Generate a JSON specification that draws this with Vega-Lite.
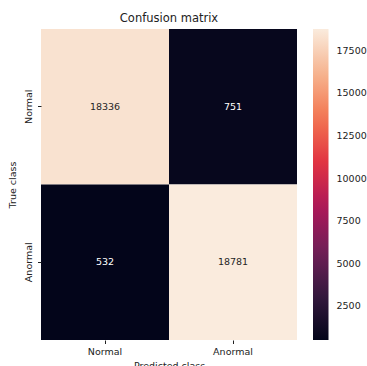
{
  "$schema": "https://vega.github.io/schema/vega-lite/v6.json",
  "width": 256,
  "height": 311,
  "autosize": "none",
  "padding": {"left": 41, "top": 29, "right": 70, "bottom": 26},
  "background": "white",
  "config": {
    "font": "DejaVu Sans",
    "view": {"stroke": null},
    "axis": {"labelFont": "DejaVu Sans", "titleFont": "DejaVu Sans"}
  },
  "title": {
    "text": "Confusion matrix",
    "fontSize": 11.5,
    "fontWeight": "normal",
    "font": "DejaVu Sans",
    "color": "#222222",
    "anchor": "middle",
    "offset": 5
  },
  "data": {
    "values": [
      {"true": "Normal", "pred": "Normal", "count": 18336},
      {"true": "Normal", "pred": "Anormal", "count": 751},
      {"true": "Anormal", "pred": "Normal", "count": 532},
      {"true": "Anormal", "pred": "Anormal", "count": 18781}
    ]
  },
  "encoding": {
    "x": {
      "field": "pred",
      "type": "nominal",
      "sort": ["Normal", "Anormal"],
      "scale": {"paddingInner": 0, "paddingOuter": 0},
      "axis": {
        "title": "Predicted class",
        "titleFontSize": 9.5,
        "titleFontWeight": "normal",
        "titleColor": "#222222",
        "titlePadding": 4,
        "labelAngle": 0,
        "labelFontSize": 9.5,
        "labelColor": "#222222",
        "labelPadding": 3,
        "tickSize": 3.5,
        "tickColor": "#222222",
        "domain": false
      }
    },
    "y": {
      "field": "true",
      "type": "nominal",
      "sort": ["Normal", "Anormal"],
      "scale": {"paddingInner": 0, "paddingOuter": 0},
      "axis": {
        "title": "True class",
        "titleFontSize": 9.5,
        "titleFontWeight": "normal",
        "titleColor": "#222222",
        "titlePadding": 6,
        "labelAngle": -90,
        "labelAlign": "center",
        "labelBaseline": "bottom",
        "labelFontSize": 9.5,
        "labelColor": "#222222",
        "labelPadding": 4,
        "tickSize": 3.5,
        "tickColor": "#222222",
        "domain": false
      }
    }
  },
  "layer": [
    {
      "mark": {"type": "rect"},
      "encoding": {
        "color": {
          "field": "count",
          "type": "quantitative",
          "scale": {
            "domain": [532, 3139, 5746, 8353, 10960, 13567, 16174, 18781],
            "range": ["#03051a", "#35193e", "#701f57", "#ad1759", "#e13342", "#f37651", "#f6b48f", "#faebdd"],
            "interpolate": "rgb"
          },
          "legend": {
            "title": null,
            "orient": "right",
            "offset": 16,
            "padding": 0,
            "direction": "vertical",
            "gradientLength": 311,
            "gradientThickness": 15.5,
            "gradientStrokeWidth": 0,
            "values": [2500, 5000, 7500, 10000, 12500, 15000, 17500],
            "format": "d",
            "labelFontSize": 9.5,
            "labelColor": "#222222",
            "labelOffset": 8,
            "labelOverlap": false,
            "labelFont": "DejaVu Sans"
          }
        }
      }
    },
    {
      "mark": {"type": "text", "fontSize": 9.5, "font": "DejaVu Sans"},
      "encoding": {
        "text": {"field": "count", "type": "quantitative", "format": "d"},
        "color": {
          "condition": {"test": "datum.count > 9000", "value": "#262626"},
          "value": "#ffffff"
        }
      }
    }
  ]
}
